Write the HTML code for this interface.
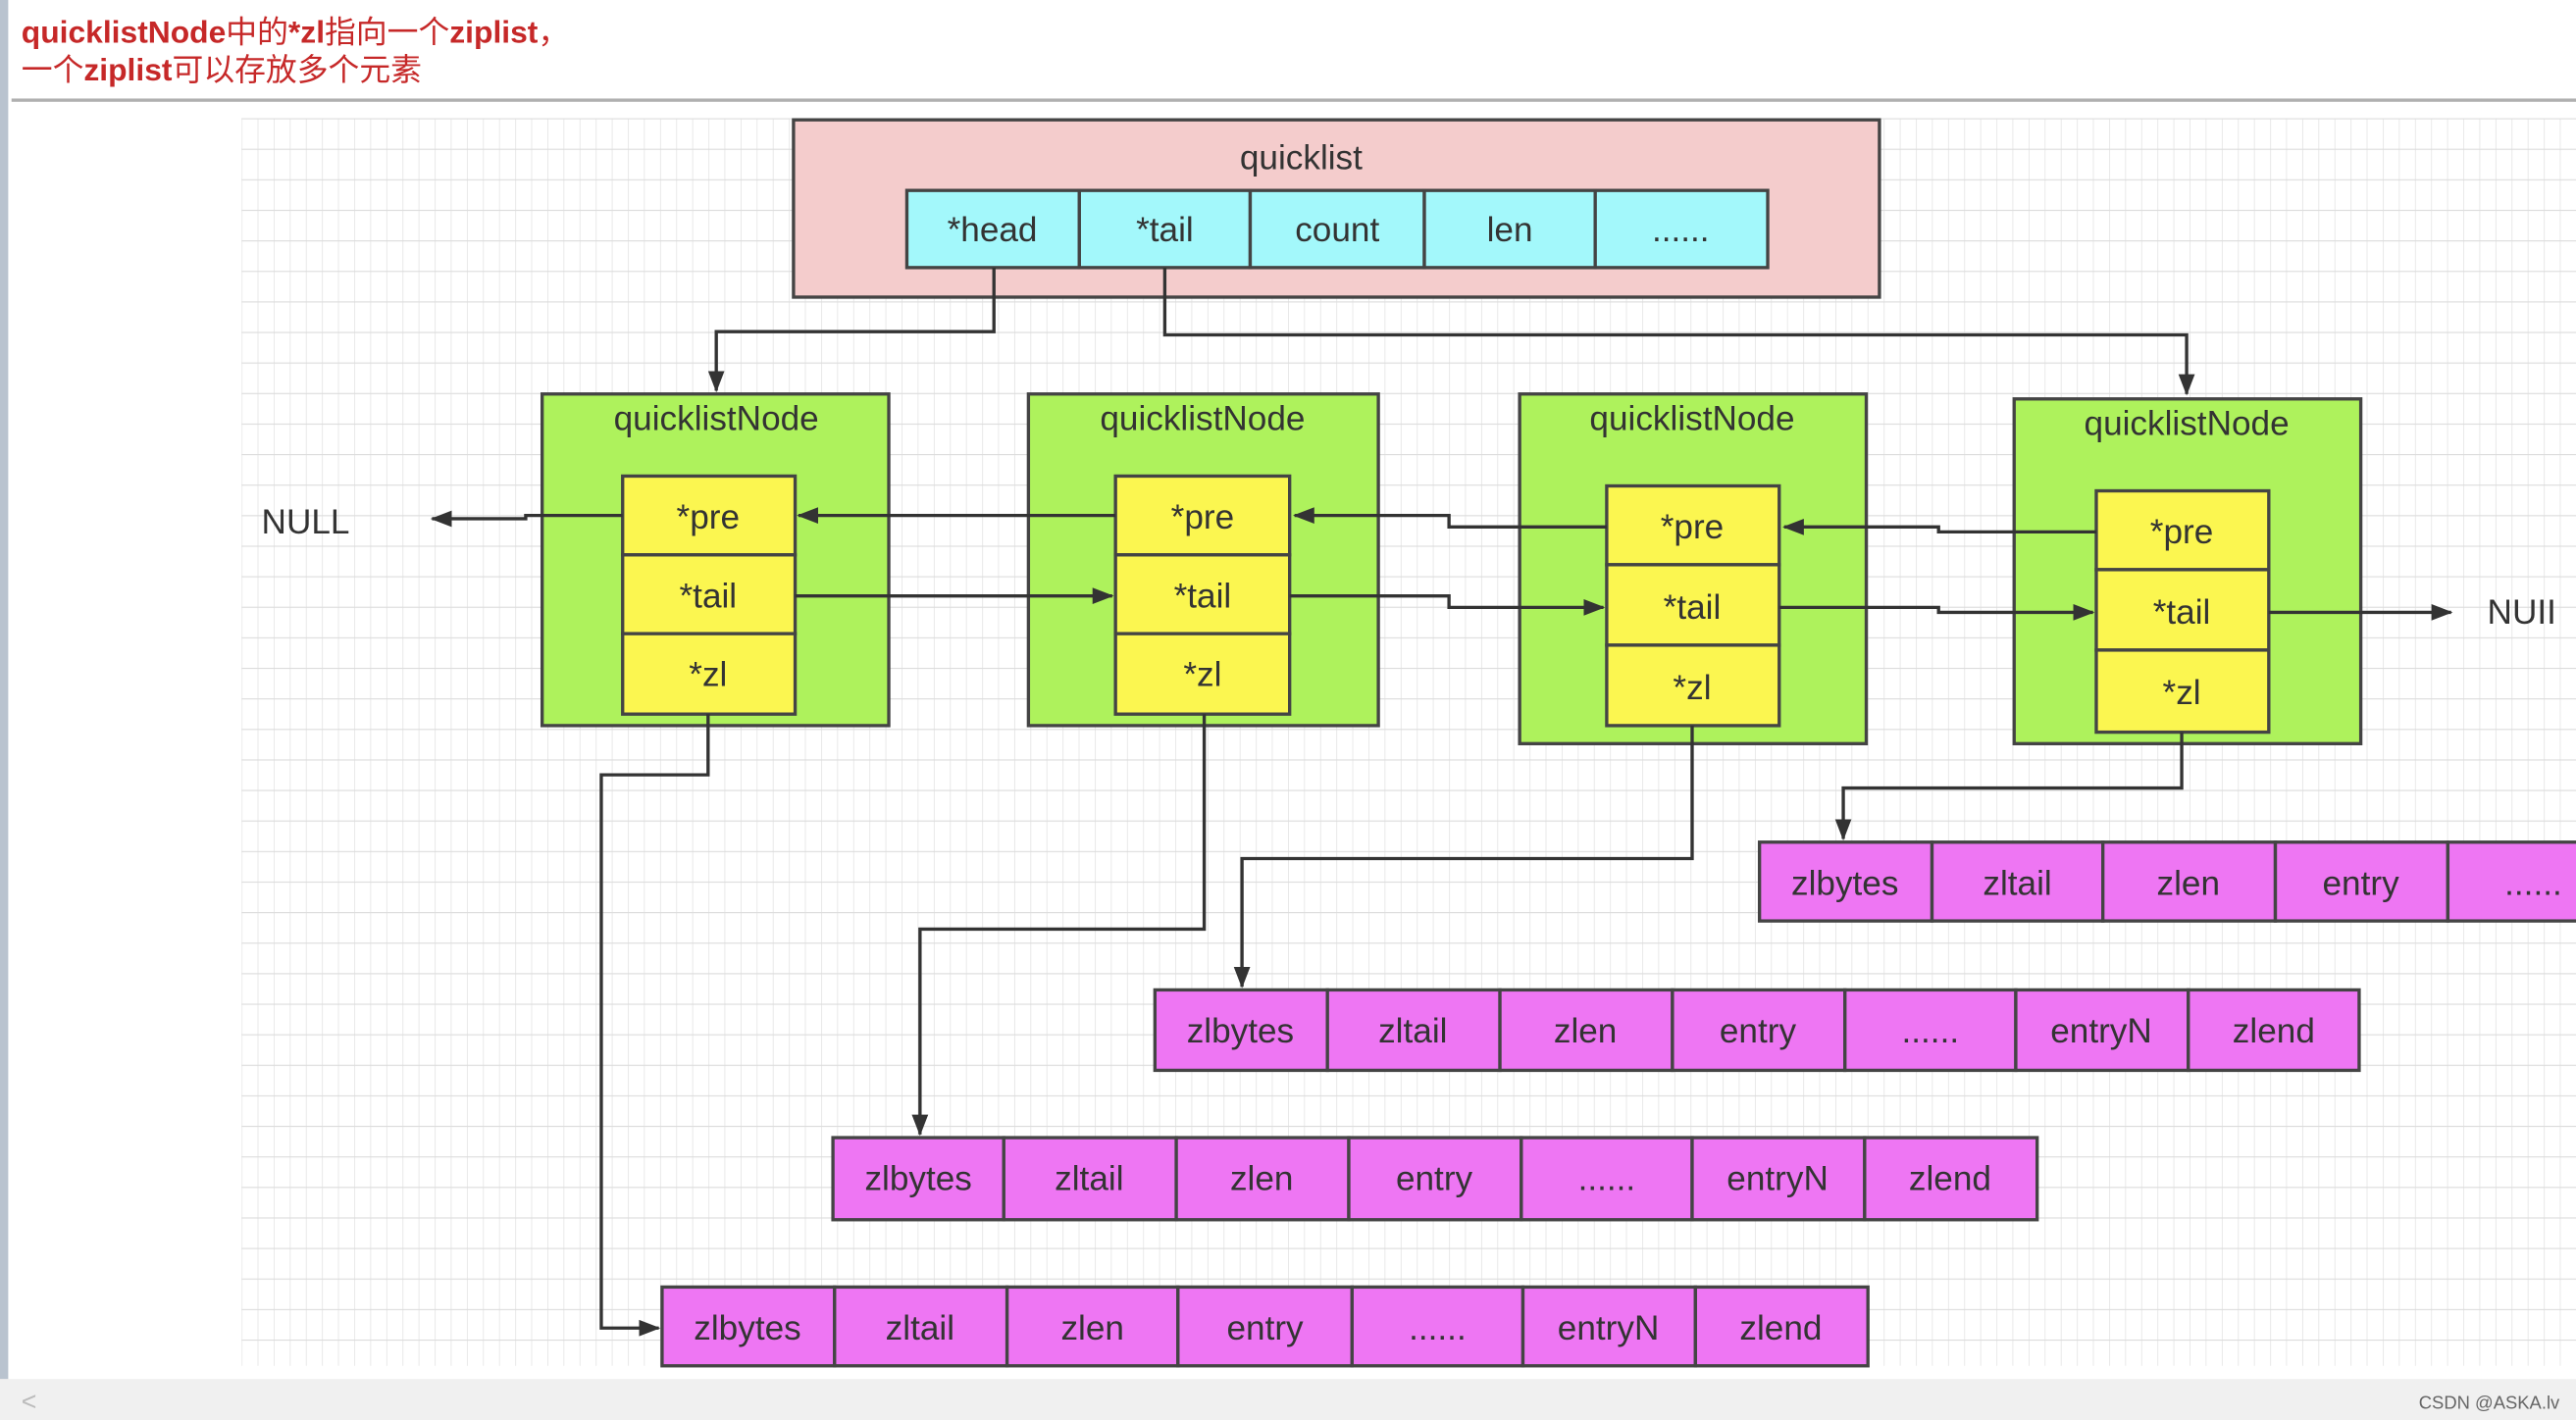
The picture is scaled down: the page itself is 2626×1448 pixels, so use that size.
<!DOCTYPE html>
<html><head><meta charset="utf-8"><style>
html,body{margin:0;padding:0;background:#fff;width:2626px;height:1448px;overflow:hidden}
svg{display:block}
text{font-family:"Liberation Sans","Noto Sans CJK SC",sans-serif;fill:#333}
</style></head><body>
<svg width="2626" height="1448" viewBox="0 0 1568 865" preserveAspectRatio="none" xmlns="http://www.w3.org/2000/svg">
<defs>
<pattern id="g" x="147" y="72" width="9.8" height="18.6" patternUnits="userSpaceOnUse">
<path d="M0 0V18.6" stroke="#e2e2e2" stroke-width="0.9" fill="none"/>
<path d="M0 0H9.8" stroke="#dcdcdc" stroke-width="1.3" fill="none"/>
</pattern>
<marker id="a" markerWidth="14" markerHeight="12" refX="12" refY="6" orient="auto" markerUnits="userSpaceOnUse">
<path d="M0 1L13 6L0 11z" fill="#333"/>
</marker>
</defs>
<rect x="0" y="0" width="5" height="865" fill="#b9c3cf"/>
<text x="13" y="26" font-size="19" style="fill:#c62828"><tspan font-weight="bold">quicklistNode</tspan>中的<tspan font-weight="bold">*zl</tspan>指向一个<tspan font-weight="bold">ziplist</tspan>，</text>
<text x="13" y="49" font-size="19" style="fill:#c62828">一个<tspan font-weight="bold">ziplist</tspan>可以存放多个元素</text>
<rect x="7" y="60" width="1561" height="2" fill="#b0b0b0"/>
<rect x="147" y="72" width="1421" height="760" fill="url(#g)"/>
<rect x="0" y="840" width="1568" height="25" fill="#f0f0f0"/>
<text x="13" y="859" font-size="16" style="fill:#bbb">&lt;</text>
<text x="1558" y="858" font-size="11" text-anchor="end" style="fill:#666">CSDN @ASKA.lv</text>

<g stroke="#444" stroke-width="2">
<rect x="483" y="73" width="661" height="108" fill="#f4cccc"/>
<g fill="#a3f8fb">
<rect x="552" y="116" width="105" height="47"/><rect x="657" y="116" width="104" height="47"/><rect x="761" y="116" width="106" height="47"/><rect x="867" y="116" width="104" height="47"/><rect x="971" y="116" width="105" height="47"/>
</g>
<g fill="#aef25c">
<rect x="330" y="240" width="211" height="202"/><rect x="626" y="240" width="213" height="202"/><rect x="925" y="240" width="211" height="213"/><rect x="1226" y="243" width="211" height="210"/>
</g>
<g fill="#fbf650">
<rect x="379" y="290" width="105" height="48"/><rect x="379" y="338" width="105" height="48"/><rect x="379" y="386" width="105" height="49"/>
<rect x="679" y="290" width="106" height="48"/><rect x="679" y="338" width="106" height="48"/><rect x="679" y="386" width="106" height="49"/>
<rect x="978" y="296" width="105" height="48"/><rect x="978" y="344" width="105" height="49"/><rect x="978" y="393" width="105" height="49"/>
<rect x="1276" y="299" width="105" height="48"/><rect x="1276" y="347" width="105" height="49"/><rect x="1276" y="396" width="105" height="50"/>
</g>
<g fill="#ee76f3">
<rect x="1071" y="513" width="105" height="48"/><rect x="1176" y="513" width="104" height="48"/><rect x="1280" y="513" width="105" height="48"/><rect x="1385" y="513" width="105" height="48"/><rect x="1490" y="513" width="105" height="48"/>
<rect x="703" y="603" width="105" height="49"/><rect x="808" y="603" width="105" height="49"/><rect x="913" y="603" width="105" height="49"/><rect x="1018" y="603" width="105" height="49"/><rect x="1123" y="603" width="104" height="49"/><rect x="1227" y="603" width="105" height="49"/><rect x="1332" y="603" width="104" height="49"/>
<rect x="507" y="693" width="104" height="50"/><rect x="611" y="693" width="105" height="50"/><rect x="716" y="693" width="105" height="50"/><rect x="821" y="693" width="105" height="50"/><rect x="926" y="693" width="104" height="50"/><rect x="1030" y="693" width="105" height="50"/><rect x="1135" y="693" width="105" height="50"/>
<rect x="403" y="784" width="105" height="48"/><rect x="508" y="784" width="105" height="48"/><rect x="613" y="784" width="104" height="48"/><rect x="717" y="784" width="106" height="48"/><rect x="823" y="784" width="104" height="48"/><rect x="927" y="784" width="105" height="48"/><rect x="1032" y="784" width="105" height="48"/>
</g>
</g>

<g fill="none" stroke="#333" stroke-width="2" marker-end="url(#a)">
<path d="M605 163V202H436V238"/>
<path d="M709 163V204H1331V240"/>
<path d="M379 314H320V316H263"/>
<path d="M679 314H486"/>
<path d="M484 363H677"/>
<path d="M978 321H882V314H788"/>
<path d="M785 363H882V370H976"/>
<path d="M1276 324H1180V321H1086"/>
<path d="M1083 370H1180V373H1274"/>
<path d="M1381 373H1492"/>
<path d="M1328 446V480H1122V511"/>
<path d="M1030 442V523H756V601"/>
<path d="M733 435V566H560V691"/>
<path d="M431 435V472H366V809H401"/>
</g>

<g font-size="21" text-anchor="middle">
<text x="792" y="103" font-size="21">quicklist</text>
<text x="604" y="147">*head</text><text x="709" y="147">*tail</text><text x="814" y="147">count</text><text x="919" y="147">len</text><text x="1023" y="147">......</text>
<text x="436" y="262" font-size="21">quicklistNode</text><text x="732" y="262" font-size="21">quicklistNode</text><text x="1030" y="262" font-size="21">quicklistNode</text><text x="1331" y="265" font-size="21">quicklistNode</text>
<text x="431" y="322">*pre</text><text x="431" y="370">*tail</text><text x="431" y="418">*zl</text>
<text x="732" y="322">*pre</text><text x="732" y="370">*tail</text><text x="732" y="418">*zl</text>
<text x="1030" y="328">*pre</text><text x="1030" y="377">*tail</text><text x="1030" y="426">*zl</text>
<text x="1328" y="331">*pre</text><text x="1328" y="380">*tail</text><text x="1328" y="429">*zl</text>
<text x="186" y="325" font-size="21">NULL</text>
<text x="1535" y="380" font-size="21">NUII</text>
<text x="1123" y="545">zlbytes</text><text x="1228" y="545">zltail</text><text x="1332" y="545">zlen</text><text x="1437" y="545">entry</text><text x="1542" y="545">......</text>
<text x="755" y="635">zlbytes</text><text x="860" y="635">zltail</text><text x="965" y="635">zlen</text><text x="1070" y="635">entry</text><text x="1175" y="635">......</text><text x="1279" y="635">entryN</text><text x="1384" y="635">zlend</text>
<text x="559" y="725">zlbytes</text><text x="663" y="725">zltail</text><text x="768" y="725">zlen</text><text x="873" y="725">entry</text><text x="978" y="725">......</text><text x="1082" y="725">entryN</text><text x="1187" y="725">zlend</text>
<text x="455" y="816">zlbytes</text><text x="560" y="816">zltail</text><text x="665" y="816">zlen</text><text x="770" y="816">entry</text><text x="875" y="816">......</text><text x="979" y="816">entryN</text><text x="1084" y="816">zlend</text>
</g>
</svg>
</body></html>
